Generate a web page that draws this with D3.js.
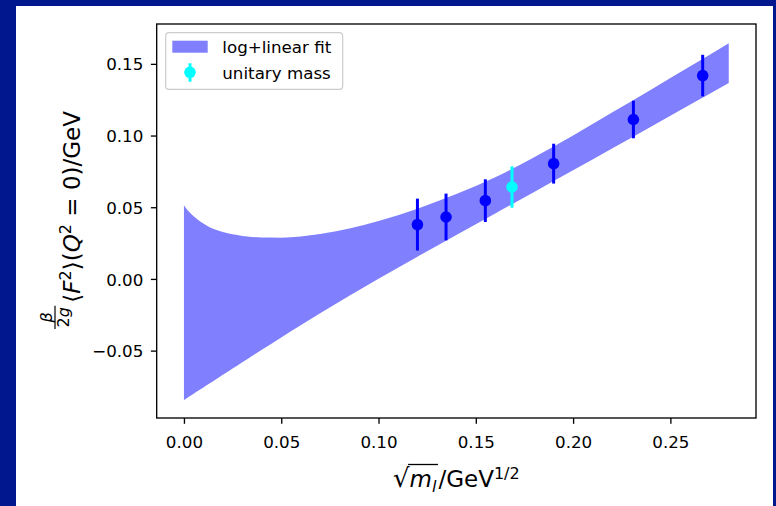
<!DOCTYPE html>
<html>
<head>
<meta charset="utf-8">
<script src="https://cdn.jsdelivr.net/npm/d3@7"></script>
<style>
  html, body { margin: 0; padding: 0; background: #00178e; }
  svg { display: block; font-family: "DejaVu Sans", sans-serif; }
</style>
</head>
<body>
<svg id="chart" width="776" height="506"></svg>
<script>
// Fit band: sqrt(m_l) grid with upper and lower edges of the log+linear fit
const fitX     = [0, 0.001, 0.002, 0.003, 0.005, 0.0075, 0.01, 0.0125, 0.015, 0.02, 0.025, 0.03, 0.035, 0.04, 0.05, 0.06, 0.07, 0.085, 0.1, 0.12, 0.14, 0.16, 0.18, 0.2, 0.22, 0.24, 0.26, 0.28];
const fitUpper = [0.0513, 0.0494, 0.0478, 0.0464, 0.0438, 0.0410, 0.0386, 0.0366, 0.0350, 0.0327, 0.0311, 0.0300, 0.0293, 0.0289, 0.0288, 0.0296, 0.0313, 0.0352, 0.0404, 0.0490, 0.0592, 0.0710, 0.0848, 0.1000, 0.1160, 0.1320, 0.1481, 0.1644];
const fitLower = [-0.0845, -0.0836, -0.0827, -0.0819, -0.0801, -0.0779, -0.0757, -0.0735, -0.0713, -0.0669, -0.0625, -0.0581, -0.0537, -0.0494, -0.0408, -0.0323, -0.0240, -0.0118, 0.0001, 0.0155, 0.0306, 0.0456, 0.0607, 0.0758, 0.0910, 0.1062, 0.1214, 0.1367];

// Lattice data points
const massX   = [0.1200, 0.1347, 0.1549, 0.1900, 0.2310, 0.2666];
const massY   = [0.0379, 0.0432, 0.0546, 0.0804, 0.1112, 0.1418];
const massErr = [0.0181, 0.0163, 0.0149, 0.0139, 0.0131, 0.0145];

// Unitary mass point
const unitaryX   = [0.1686];
const unitaryY   = [0.0641];
const unitaryErr = [0.0144];

// Axis ticks and legend
const xTicks = [0, 0.05, 0.10, 0.15, 0.20, 0.25];
const yTicks = [-0.05, 0.00, 0.05, 0.10, 0.15];
const legendLabels = ["log+linear fit", "unitary mass"];

const W = 776, H = 506;
const BAND = "#8080ff", BLUE = "#0000ff", CYAN = "#00ffff";

const svg = d3.select("#chart");
svg.append("rect").attr("width", W).attr("height", H).attr("fill", "#00178e");
svg.append("rect").attr("x", 16).attr("y", 6).attr("width", 757).attr("height", H - 6).attr("fill", "#ffffff");

const plot = { left: 156.7, right: 756, top: 24, bottom: 418 };
const x = d3.scaleLinear().domain([-0.014, 0.294]).range([plot.left, plot.right]);
const y = d3.scaleLinear().domain([-0.0970, 0.1778]).range([plot.bottom, plot.top]);

// band
const band = fitX.map((v, i) => ({ x: v, lo: fitLower[i], hi: fitUpper[i] }));
svg.append("path")
  .datum(band)
  .attr("fill", BAND)
  .attr("d", d3.area().curve(d3.curveMonotoneX)
    .x(d => x(d.x)).y0(d => y(d.lo)).y1(d => y(d.hi)));

// error bars + markers
function drawPoints(xs, ys, es, color) {
  const pts = xs.map((v, i) => ({ x: v, y: ys[i], e: es[i] }));
  const g = svg.append("g");
  g.selectAll("line").data(pts).join("line")
    .attr("x1", d => x(d.x)).attr("x2", d => x(d.x))
    .attr("y1", d => y(d.y - d.e)).attr("y2", d => y(d.y + d.e))
    .attr("stroke", color).attr("stroke-width", 3);
  g.selectAll("circle").data(pts).join("circle")
    .attr("cx", d => x(d.x)).attr("cy", d => y(d.y)).attr("r", 5.8)
    .attr("fill", color);
}
drawPoints(massX, massY, massErr, BLUE);
drawPoints(unitaryX, unitaryY, unitaryErr, CYAN);

// axes
const fmt = d3.format(".2f");
const xAxis = svg.append("g").attr("transform", `translate(0,${plot.bottom})`)
  .call(d3.axisBottom(x).tickValues(xTicks).tickFormat(fmt).tickSizeOuter(0).tickSize(5.8));
xAxis.select(".domain").remove();
xAxis.selectAll(".tick line").attr("stroke", "#000").attr("stroke-width", 1.33);
xAxis.selectAll(".tick text").attr("y", 29.5).attr("dy", 0)
  .attr("font-size", 16.7).attr("font-family", "DejaVu Sans").attr("fill", "#000");

const yAxis = svg.append("g").attr("transform", `translate(${plot.left},0)`)
  .call(d3.axisLeft(y).tickValues(yTicks).tickFormat(fmt).tickSizeOuter(0).tickSize(5.8));
yAxis.select(".domain").remove();
yAxis.selectAll(".tick line").attr("stroke", "#000").attr("stroke-width", 1.33);
yAxis.selectAll(".tick text").attr("x", -13.4).attr("dy", 6.1)
  .attr("font-size", 16.7).attr("font-family", "DejaVu Sans").attr("fill", "#000");

// frame
svg.append("rect")
  .attr("x", plot.left).attr("y", plot.top)
  .attr("width", plot.right - plot.left).attr("height", plot.bottom - plot.top)
  .attr("fill", "none").attr("stroke", "#000").attr("stroke-width", 1.33);

// x label: sqrt(m_l)/GeV^{1/2}
(function () {
  const fs = 23, sm = 16;
  const t = svg.append("text").attr("font-size", fs).attr("y", 487).attr("fill", "#000");
  const s = t.append("tspan").attr("font-size", 26).text("√");
  const m = t.append("tspan").attr("font-style", "italic").text("m");
  const l = t.append("tspan").attr("font-style", "italic").attr("font-size", sm).attr("dy", 5).text("l");
  t.append("tspan").attr("dy", -5).attr("dx", 2).text("/GeV");
  t.append("tspan").attr("font-size", sm).attr("dy", -8).text("1/2");
  const total = t.node().getComputedTextLength() + 2;
  const x0 = (plot.left + plot.right) / 2 - total / 2;
  t.attr("x", x0);
  const ws = s.node().getComputedTextLength();
  const wm = m.node().getComputedTextLength();
  const wl = l.node().getComputedTextLength();
  svg.append("line")
    .attr("x1", x0 + ws - 1.5).attr("x2", x0 + ws + wm + wl + 1.5)
    .attr("y1", 464.5).attr("y2", 464.5)
    .attr("stroke", "#000").attr("stroke-width", 1.3);
})();

// y label: (beta/2g) <F^2>(Q^2 = 0)/GeV
(function () {
  const fs = 23, sm = 16;
  const g = svg.append("g").attr("transform", "translate(80,220) rotate(-90)").attr("fill", "#000");
  const num = g.append("text").attr("font-size", sm).attr("font-style", "italic").attr("text-anchor", "middle").text("β");
  const den = g.append("text").attr("font-size", sm).attr("text-anchor", "middle");
  den.append("tspan").text("2");
  den.append("tspan").attr("font-style", "italic").text("g");
  const main = g.append("text").attr("font-size", fs);
  main.append("tspan").text("⟨");
  main.append("tspan").attr("font-style", "italic").text("F");
  main.append("tspan").attr("font-size", sm).attr("dy", -9).text("2");
  main.append("tspan").attr("dy", 9).text("⟩(");
  main.append("tspan").attr("font-style", "italic").text("Q");
  main.append("tspan").attr("font-size", sm).attr("dy", -9).text("2");
  main.append("tspan").attr("dy", 9).text(" = 0)/GeV");
  const fracW = Math.max(num.node().getComputedTextLength(), den.node().getComputedTextLength()) + 3;
  const mainW = main.node().getComputedTextLength();
  const gap = 3;
  const u0 = -(fracW + gap + mainW) / 2;
  num.attr("x", u0 + fracW / 2).attr("y", -28);
  den.attr("x", u0 + fracW / 2).attr("y", -11);
  g.append("line").attr("x1", u0).attr("x2", u0 + fracW).attr("y1", -25).attr("y2", -25)
    .attr("stroke", "#000").attr("stroke-width", 1.2);
  main.attr("x", u0 + fracW + gap).attr("y", 0);
})();

// legend
(function () {
  const lg = svg.append("g");
  lg.append("rect").attr("x", 165.7).attr("y", 32.7).attr("width", 177).attr("height", 56.6)
    .attr("rx", 3.3).attr("fill", "#fff").attr("fill-opacity", 0.8)
    .attr("stroke", "#cccccc").attr("stroke-width", 1.2);
  lg.append("rect").attr("x", 172.3).attr("y", 40.7).attr("width", 35.4).attr("height", 12)
    .attr("fill", BAND);
  lg.append("line").attr("x1", 190).attr("x2", 190).attr("y1", 63.3).attr("y2", 81.7)
    .attr("stroke", CYAN).attr("stroke-width", 3);
  lg.append("circle").attr("cx", 190).attr("cy", 72.3).attr("r", 5.8).attr("fill", CYAN);
  lg.selectAll("text").data(legendLabels).join("text")
    .attr("x", 222.3).attr("y", (d, i) => 53.3 + i * 26)
    .attr("font-size", 16.7).attr("fill", "#000").text(d => d);
})();
</script>
</body>
</html>
